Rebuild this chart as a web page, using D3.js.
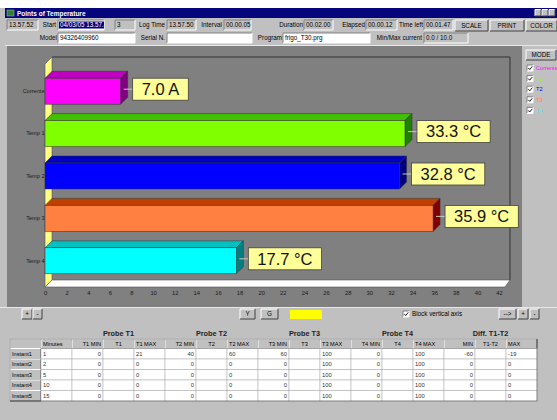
<!DOCTYPE html>
<html>
<head>
<meta charset="utf-8">
<script src="https://cdn.jsdelivr.net/npm/d3@7"></script>
<style>
html, body { margin: 0; padding: 0; background: #fff; }
svg { display: block; font-family: "Liberation Sans", Arial, sans-serif; }
</style>
</head>
<body>
<svg width="557" height="420"></svg>
<script>
// valori delle barre
const categories = ["Corrente", "Temp 1", "Temp 2", "Temp 3", "Temp 4"];
const values = [7.0, 33.3, 32.8, 35.9, 17.7];
const units = ["A", "°C", "°C", "°C", "°C"];
const xTicks = [0, 2, 4, 6, 8, 10, 12, 14, 16, 18, 20, 22, 24, 26, 28, 30, 32, 34, 36, 38, 40, 42];
const legendLabels = ["Corrente", "T1", "T2", "T3", "T4"];

// colori (fronte, sopra, lato)
const frontColors = ["#ff00ff", "#80ff00", "#0000ff", "#ff8040", "#00ffff"];
const topColors = ["#c000c0", "#40c000", "#0000c0", "#c04000", "#00c0c0"];
const sideColors = ["#800080", "#208000", "#000080", "#800000", "#008080"];

// tabella
const instants = ["Instant1", "Instant2", "Instant3", "Instant4", "Instant5"];
const minutes = [1, 2, 5, 10, 15];
const t1Min = [0, 0, 0, 0, 0];
const t1Max = [21, 0, 0, 0, 0];
const t2Min = [40, 0, 0, 0, 0];
const t2Max = [60, 0, 0, 0, 0];
const t3Min = [60, 0, 0, 0, 0];
const t3Max = [100, 100, 100, 100, 100];
const t4Min = [0, 0, 0, 0, 0];
const t4Max = [100, 100, 100, 100, 100];
const diffMin = [-60, 0, 0, 0, 0];
const diffMax = [-19, 0, 0, 0, 0];
const probeTitles = ["Probe T1", "Probe T2", "Probe T3", "Probe T4", "Diff. T1-T2"];
const colHeaders = ["Minutes", "T1 MIN", "T1", "T1 MAX", "T2 MIN", "T2", "T2 MAX",
    "T3 MIN", "T3", "T3 MAX", "T4 MIN", "T4", "T4 MAX", "MIN", "T1-T2", "MAX"];

const svg = d3.select("svg");
const uiFont = 6.3;

// --- helpers in stile Windows ---
function box(g, x, y, w, h, fill, raised) {
    const b = g.append("g");
    b.append("rect").attr("x", x).attr("y", y).attr("width", w).attr("height", h).attr("fill", fill);
    const lt = raised ? "#ffffff" : "#808080";
    const rb = raised ? "#404040" : "#ffffff";
    b.append("path").attr("d", `M${x},${y + h}V${y}H${x + w}`).attr("stroke", lt).attr("fill", "none");
    b.append("path").attr("d", `M${x + w},${y}V${y + h}H${x}`).attr("stroke", rb).attr("fill", "none");
    return b;
}
function label(g, x, y, txt, anchor, opts) {
    opts = opts || {};
    return g.append("text").attr("x", x).attr("y", y)
        .attr("text-anchor", anchor || "start")
        .attr("font-size", opts.size || uiFont)
        .attr("font-weight", opts.bold ? "bold" : null)
        .attr("fill", opts.color || "#000")
        .text(txt);
}
function button(g, x, y, w, h, txt) {
    box(g, x, y, w, h, "#c0c0c0", true);
    label(g, x + w / 2, y + h / 2 + 2.2, txt, "middle");
}

// sfondo finestra
svg.append("rect").attr("width", 557).attr("height", 420).attr("fill", "#c0c0c0");
svg.append("rect").attr("width", 557).attr("height", 8).attr("fill", "#ffffff");

// barra del titolo
const tb = svg.append("g");
tb.append("rect").attr("x", 5).attr("y", 8).attr("width", 552).attr("height", 10).attr("fill", "#06067c");
tb.append("rect").attr("x", 7).attr("y", 10).attr("width", 7).attr("height", 6).attr("fill", "#2f7f2f").attr("stroke", "#9c9").attr("stroke-width", 0.5);
label(tb, 17, 15.6, "Points of Temperature", "start", { bold: true, color: "#fff", size: 6.5 });
[535, 542, 549].forEach(bx => box(tb, bx, 9.5, 6, 6.5, "#c0c0c0", true));

// barra strumenti
const tool = svg.append("g");
const r1 = 20, r2 = 33, fh = 10;
svg.append("defs").append("clipPath").attr("id", "startClip")
    .append("rect").attr("x", 58).attr("y", r1).attr("width", 46).attr("height", fh);
box(tool, 7, r1, 31, fh, "#c0c0c0", false); label(tool, 9, r1 + 7, "13.57.52");
label(tool, 56, r1 + 7, "Start", "end");
box(tool, 58, r1, 46, fh, "#ffffff", false);
const startG = tool.append("g").attr("clip-path", "url(#startClip)");
startG.append("rect").attr("x", 59).attr("y", r1 + 1.5).attr("width", 45).attr("height", 7).attr("fill", "#000080");
label(startG, 60, r1 + 7, "04/03/05 13.57.45", "start", { color: "#fff" });
box(tool, 115, r1, 20, fh, "#c0c0c0", false); label(tool, 117, r1 + 7, "3");
label(tool, 165, r1 + 7, "Log Time", "end");
box(tool, 167, r1, 29, fh, "#c0c0c0", false); label(tool, 169, r1 + 7, "13.57.50");
label(tool, 222, r1 + 7, "Interval", "end");
box(tool, 224, r1, 27, fh, "#c0c0c0", false); label(tool, 226, r1 + 7, "00.00.05");
label(tool, 303, r1 + 7, "Duration", "end");
box(tool, 304, r1, 29, fh, "#c0c0c0", false); label(tool, 306, r1 + 7, "00.02.00");
label(tool, 365, r1 + 7, "Elapsed", "end");
box(tool, 366, r1, 31, fh, "#c0c0c0", false); label(tool, 368, r1 + 7, "00.00.12");
label(tool, 423, r1 + 7, "Time left", "end");
box(tool, 424, r1, 29, fh, "#c0c0c0", false); label(tool, 426, r1 + 7, "00.01.47");
button(tool, 455, r1, 33, 11, "SCALE");
button(tool, 490, r1, 34, 11, "PRINT");
button(tool, 526, r1, 31, 11, "COLOR");

label(tool, 57, r2 + 7, "Model", "end");
box(tool, 58, r2, 77, fh, "#ffffff", false); label(tool, 60, r2 + 7, "94326409960");
label(tool, 165, r2 + 7, "Serial N.", "end");
box(tool, 167, r2, 85, fh, "#ffffff", false);
label(tool, 282, r2 + 7, "Program", "end");
box(tool, 283, r2, 87, fh, "#ffffff", false); label(tool, 285, r2 + 7, "frigo_T30.prg");
label(tool, 422, r2 + 7, "Min/Max current", "end");
box(tool, 424, r2, 44, fh, "#c0c0c0", false); label(tool, 426, r2 + 7, "0.0 / 10.0");
tool.append("line").attr("x1", 5).attr("x2", 557).attr("y1", 45.5).attr("y2", 45.5).attr("stroke", "#e8e8e8");

// --- grafico ---
svg.append("rect").attr("x", 7).attr("y", 46).attr("width", 515).attr("height", 261).attr("fill", "#808080");

const depth = 7;
const plotTop = 64, plotBottom = 287;
const x = d3.scaleLinear().domain([0, 42]).range([45, 499]);
const y = d3.scaleBand().domain(categories).range([70, 282])
    .paddingInner(0.387).paddingOuter(0.1935);

const chart = svg.append("g");
const backRight = x(42) + depth + 4;

// cornice posteriore
chart.append("path")
    .attr("d", `M${x(0) + depth},${plotTop - depth}H${backRight}V${plotBottom - depth}`)
    .attr("stroke", "#303030").attr("fill", "none").attr("stroke-width", 1);

// pavimento
chart.append("polygon")
    .attr("points", [[x(0), plotBottom], [x(0) + depth, plotBottom - depth], [backRight, plotBottom - depth], [backRight - depth + 2, plotBottom]].join(" "))
    .attr("fill", "#ffffff").attr("stroke", "#505050").attr("stroke-width", 0.6);

// parete sinistra gialla
chart.append("polygon")
    .attr("points", [[x(0), plotTop], [x(0) + depth, plotTop - depth], [x(0) + depth, plotBottom - depth], [x(0), plotBottom]].join(" "))
    .attr("fill", "#ffff80").attr("stroke", "#505050").attr("stroke-width", 0.6);

// barre 3D
const bars = chart.selectAll("g.bar").data(categories).join("g").attr("class", "bar");
const bw = y.bandwidth();
bars.each(function (c, i) {
    const g = d3.select(this);
    const x0 = x(0), x1 = x(values[i]), y0 = y(c);
    g.append("polygon")
        .attr("points", [[x0, y0], [x0 + depth, y0 - depth], [x1 + depth, y0 - depth], [x1, y0]].join(" "))
        .attr("fill", topColors[i]).attr("stroke", "#303030").attr("stroke-width", 0.5);
    g.append("polygon")
        .attr("points", [[x1, y0], [x1 + depth, y0 - depth], [x1 + depth, y0 + bw - depth], [x1, y0 + bw]].join(" "))
        .attr("fill", sideColors[i]).attr("stroke", "#303030").attr("stroke-width", 0.5);
    g.append("rect").attr("x", x0).attr("y", y0).attr("width", x1 - x0).attr("height", bw)
        .attr("fill", frontColors[i]).attr("stroke", "#303030").attr("stroke-width", 0.5);

    // etichetta valore
    const cy = y0 + bw / 2 - 2;
    const bx = x1 + 12;
    g.append("line").attr("x1", x1 + 3).attr("x2", bx).attr("y1", cy).attr("y2", cy)
        .attr("stroke", "#c8c8c8").attr("stroke-width", 1);
    const lab = g.append("g");
    const rect = lab.append("rect").attr("y", cy - 11).attr("height", 22)
        .attr("fill", "#ffff99").attr("stroke", "#404040").attr("stroke-width", 0.8);
    const t = lab.append("text").attr("y", cy + 5.8).attr("font-size", 16.5).attr("fill", "#111")
        .text(values[i].toFixed(1) + " " + units[i]);
    const tw = t.node().getComputedTextLength();
    rect.attr("x", bx).attr("width", tw + 18);
    t.attr("x", bx + 9);
});

// assi
const xAxisG = chart.append("g").attr("transform", `translate(0,${plotBottom + 1})`)
    .call(d3.axisBottom(x).tickValues(xTicks).tickSize(0).tickPadding(3));
xAxisG.select(".domain").remove();
xAxisG.selectAll("text").attr("font-size", 5.8).attr("fill", "#1a1a1a").attr("font-family", null);

const yAxisG = chart.append("g").attr("transform", `translate(${x(0) + 0.5},0)`)
    .call(d3.axisLeft(y).tickSize(0).tickPadding(1));
yAxisG.select(".domain").remove();
yAxisG.selectAll("text").attr("font-size", 5.6).attr("fill", "#1a1a1a").attr("font-family", null);

// pannello destro MODE
const side = svg.append("g");
side.append("rect").attr("x", 522).attr("y", 46).attr("width", 35).attr("height", 261).attr("fill", "#c0c0c0");
button(side, 526, 50, 30, 10, "MODE");
legendLabels.forEach((l, i) => {
    const ly = 65 + i * 10.6;
    box(side, 527, ly, 6, 6, "#ffffff", false);
    side.append("path").attr("d", `M528.3,${ly + 3}l1.4,1.6l2.6,-3.2`).attr("stroke", "#000").attr("fill", "none").attr("stroke-width", 0.9);
    label(side, 536, ly + 5.2, l, "start", { color: frontColors[i], size: 5.6 });
});

// --- pannello inferiore ---
const bottom = svg.append("g");
bottom.append("line").attr("x1", 0).attr("x2", 557).attr("y1", 307.5).attr("y2", 307.5).attr("stroke", "#e8e8e8");
const by = 309;
button(bottom, 22, by, 10, 10, "+");
button(bottom, 33, by, 9, 10, "-");
button(bottom, 240, by, 15, 10, "Y");
button(bottom, 261, by, 17, 10, "G");
bottom.append("rect").attr("x", 290).attr("y", by + 1).attr("width", 32).attr("height", 9).attr("fill", "#ffff00");
box(bottom, 403, by + 2, 6, 6, "#ffffff", false);
bottom.append("path").attr("d", `M404.3,${by + 5}l1.4,1.6l2.6,-3.2`).attr("stroke", "#000").attr("fill", "none").attr("stroke-width", 0.9);
label(bottom, 412, by + 7.2, "Block vertical axis");
button(bottom, 499, by, 17, 10, "-->");
button(bottom, 518, by, 10, 10, "+");
button(bottom, 530, by, 9, 10, "-");

// tabella
const colW = 31;
const colX = d3.scaleLinear().domain([0, 16]).range([41, 41 + 16 * colW]);
const headY = 339, headH = 9.5;
const rowY = d3.scaleBand().domain(instants).range([348.5, 401]);
const columns = [minutes, t1Min, null, t1Max, t2Min, null, t2Max, t3Min, null, t3Max,
    t4Min, null, t4Max, diffMin, null, diffMax];
const align = columns.map((c, i) => i === 0 ? "start" : ["end", "middle", "start"][(i - 1) % 3]);
const table = bottom.append("g");

probeTitles.forEach((p, k) => {
    label(table, colX(2 + 3 * k) + colW / 2, 335.5, p, "middle", { bold: true, size: 7.3, color: "#222" });
});

box(table, 10, headY, 31, headH, "#c0c0c0", true);
colHeaders.forEach((h, i) => {
    box(table, colX(i), headY, colW, headH, "#c0c0c0", true);
    const a = align[i];
    const tx = a === "start" ? colX(i) + 2 : a === "end" ? colX(i) + colW - 2 : colX(i) + colW / 2;
    label(table, tx, headY + 6.8, h, a, { size: 5.6 });
});

instants.forEach((r, ri) => {
    const ry = rowY(r), rh = rowY.bandwidth();
    box(table, 10, ry, 31, rh, "#c0c0c0", true);
    label(table, 12, ry + rh / 2 + 2.1, r, "start", { size: 5.6 });
    columns.forEach((col, ci) => {
        table.append("rect").attr("x", colX(ci)).attr("y", ry).attr("width", colW).attr("height", rh)
            .attr("fill", "#ffffff").attr("stroke", "#a8a8a8").attr("stroke-width", 0.5);
        if (col) {
            const a = align[ci];
            const tx = a === "start" ? colX(ci) + 2 : a === "end" ? colX(ci) + colW - 2 : colX(ci) + colW / 2;
            label(table, tx, ry + rh / 2 + 2.1, col[ri], a, { size: 5.8, color: "#333" });
        }
    });
});
table.append("rect").attr("x", 10).attr("y", headY).attr("width", colX(16) - 10).attr("height", rowY.range()[1] - headY)
    .attr("fill", "none").attr("stroke", "#606060").attr("stroke-width", 0.6);
</script>
</body>
</html>
